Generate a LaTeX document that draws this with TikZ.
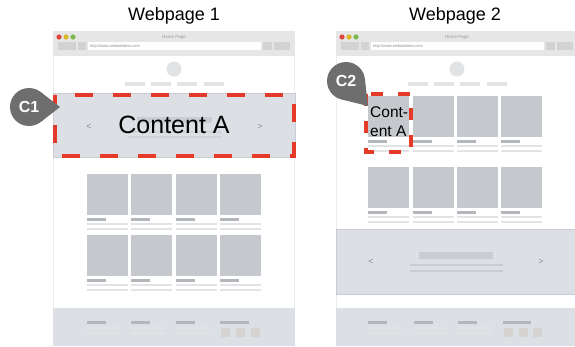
\documentclass[tikz,border=0pt]{standalone}
\usepackage{fontspec}
\setmainfont{Liberation Sans}
\usetikzlibrary{calc}
\definecolor{barbg}{HTML}{E6E6E6}
\definecolor{btn}{HTML}{D2D2D2}
\definecolor{cardfill}{HTML}{C5C9CD}
\definecolor{herofill}{HTML}{DCDFE4}
\definecolor{heroline}{HTML}{C9CCD1}
\definecolor{darkbar}{HTML}{B3B7BC}
\definecolor{lightbar}{HTML}{E2E3E5}
\definecolor{framegray}{HTML}{EBEBEB}
\definecolor{sqfill}{HTML}{D5D3D0}
\definecolor{pingray}{HTML}{6E6E6E}
\definecolor{markred}{HTML}{E53A28}
\definecolor{tlred}{HTML}{E0443E}
\definecolor{tlyellow}{HTML}{D9B52B}
\definecolor{tlgreen}{HTML}{7DB84E}
\tikzset{
  card/.style={fill=cardfill,draw=none},
  dbar/.style={fill=darkbar,draw=none},
  lbar/.style={fill=lightbar,draw=none},
  hero/.style={fill=herofill,draw=heroline,line width=0.8pt},
  redmark/.style={draw=markred,line width=4pt},
  title/.style={font=\fontsize{18}{20}\selectfont},
  pintext/.style={text=white,font=\fontsize{16}{18}\selectfont\bfseries},
  chev/.style={text=black!45,font=\fontsize{9}{10}\selectfont},
}
% product card: image, caption bar, two text lines
\newcommand\wfcard[2]{%
  \fill[card] (#1,#2) rectangle ++(41,41);
  \fill[dbar] (#1,#2+44) rectangle ++(19,3);
  \fill[lbar] (#1,#2+49) rectangle ++(41,2);
  \fill[lbar] (#1,#2+54) rectangle ++(41,2);
}
% footer column: heading bar and two text lines
\newcommand\wffoot[2]{%
  \fill[dbar] (#1,#2) rectangle ++(19,3);
  \fill[lbar] (#1,#2+6) rectangle ++(33,2);
  \fill[lbar] (#1,#2+11) rectangle ++(33,2);
}
% browser chrome and page header, drawn relative to the window's left edge
\newcommand\wfheader{%
  \fill[framegray] (0,56) rectangle (1,346);
  \fill[barbg] (0,31) rectangle (242,56);
  \fill[tlred] (6,37) circle (2.6);
  \fill[tlyellow] (13,37) circle (2.6);
  \fill[tlgreen] (20,37) circle (2.6);
  \node[text=black!40,font=\fontsize{4.5}{5}\selectfont] at (121,37) {Home Page};
  \fill[btn] (5,42) rectangle (23,50);
  \fill[btn] (25,42) rectangle (33,50);
  \fill[white] (35,42) rectangle (208,50);
  \node[anchor=west,text=black!45,font=\fontsize{4}{5}\selectfont,inner sep=0pt] at (37,46) {http://www.webaddress.com};
  \fill[btn] (210,42) rectangle (219,50);
  \fill[btn] (221,42) rectangle (237,50);
  \fill[lightbar] (121,69) circle (7.5);
  \foreach \nx in {72,98,124,151} {\fill[lightbar] (\nx,82) rectangle ++(20,4);}
}
\begin{document}
\begin{tikzpicture}[x=1pt,y=-1pt]
\useasboundingbox (0,0) rectangle (575,346);
\fill[white] (0,0) rectangle (575,346);

% ---------- first window ----------
\node[title] (t1) at (174,16) {Webpage 1};
\begin{scope}[shift={(53,0)}]
  \wfheader
  \fill[framegray] (241,56) rectangle (242,346);
\end{scope}
% hero banner
\fill[hero] (53,93) rectangle (295,157);
\fill[heroline] (137,117) rectangle (212,123);
\fill[heroline!70!herofill] (128,131) rectangle (221,133);
\fill[heroline!70!herofill] (128,136) rectangle (221,138);
\node[chev] (l1) at (89,127) {<};
\node[chev] (r1) at (260,127) {>};
\node[font=\fontsize{25}{28}\selectfont] (ca1) at (174,125) {Content A};
\draw[redmark,dash pattern=on 18pt off 20pt,dash phase=8pt] (55,95) rectangle (294,156);
% cards
\foreach \cx in {87,131,176,220} {\wfcard{\cx}{174}\wfcard{\cx}{235}}
% footer
\fill[herofill] (53,308) rectangle (295,346);
\foreach \fx in {87,131,176} {\wffoot{\fx}{321}}
\fill[dbar] (220,321) rectangle ++(29,3);
\foreach \sx in {221,236,251} {\fill[sqfill] (\sx,328) rectangle ++(9,9);}

% ---------- second window ----------
\node[title] (t2) at (455,16) {Webpage 2};
\begin{scope}[shift={(336,0)}]
  \wfheader
\end{scope}
\foreach \cx in {368,413,457,501} {\wfcard{\cx}{96}\wfcard{\cx}{167}}
\node[anchor=north west,align=left,inner sep=0pt,font=\fontsize{15.5}{19}\selectfont] (ca2) at (370,106) {Cont-\\ent A};
\draw[redmark,line width=3.5pt,dash pattern=on 12pt off 15pt,dash phase=0pt] (366,94) rectangle (411,152);
% hero banner
\fill[hero] (336,229) rectangle (576,294);
\node[chev] (l2) at (371,262) {<};
\node[chev] (r2) at (541,262) {>};
\fill[heroline] (419,252) rectangle (493,259);
\fill[heroline] (410,264) rectangle (503,266);
\fill[heroline] (410,270) rectangle (503,272);
% footer
\fill[herofill] (336,308) rectangle (575,346);
\foreach \fx in {368,414,458} {\wffoot{\fx}{321}}
\fill[dbar] (503,321) rectangle ++(28,3);
\foreach \sx in {504,519,533} {\fill[sqfill] (\sx,328) rectangle ++(9,9);}

% ---------- pins ----------
\coordinate (c1) at (29,107);
\coordinate (tip1) at (60,107);
\fill[pingray] (c1) circle (19);
\fill[pingray] (tip1) -- ($(c1)+(52:19)$) -- ($(c1)+(-52:19)$) -- cycle;
\node[pintext] (p1) at (c1) {C1};

\coordinate (c2) at (346,81);
\coordinate (tip2) at (368,106);
\fill[pingray] (c2) circle (19);
\fill[pingray] (tip2) -- ($(c2)+(103:19)$) -- ($(c2)+(-9:19)$) -- cycle;
\node[pintext] (p2) at (c2) {C2};
\end{tikzpicture}
\end{document}
